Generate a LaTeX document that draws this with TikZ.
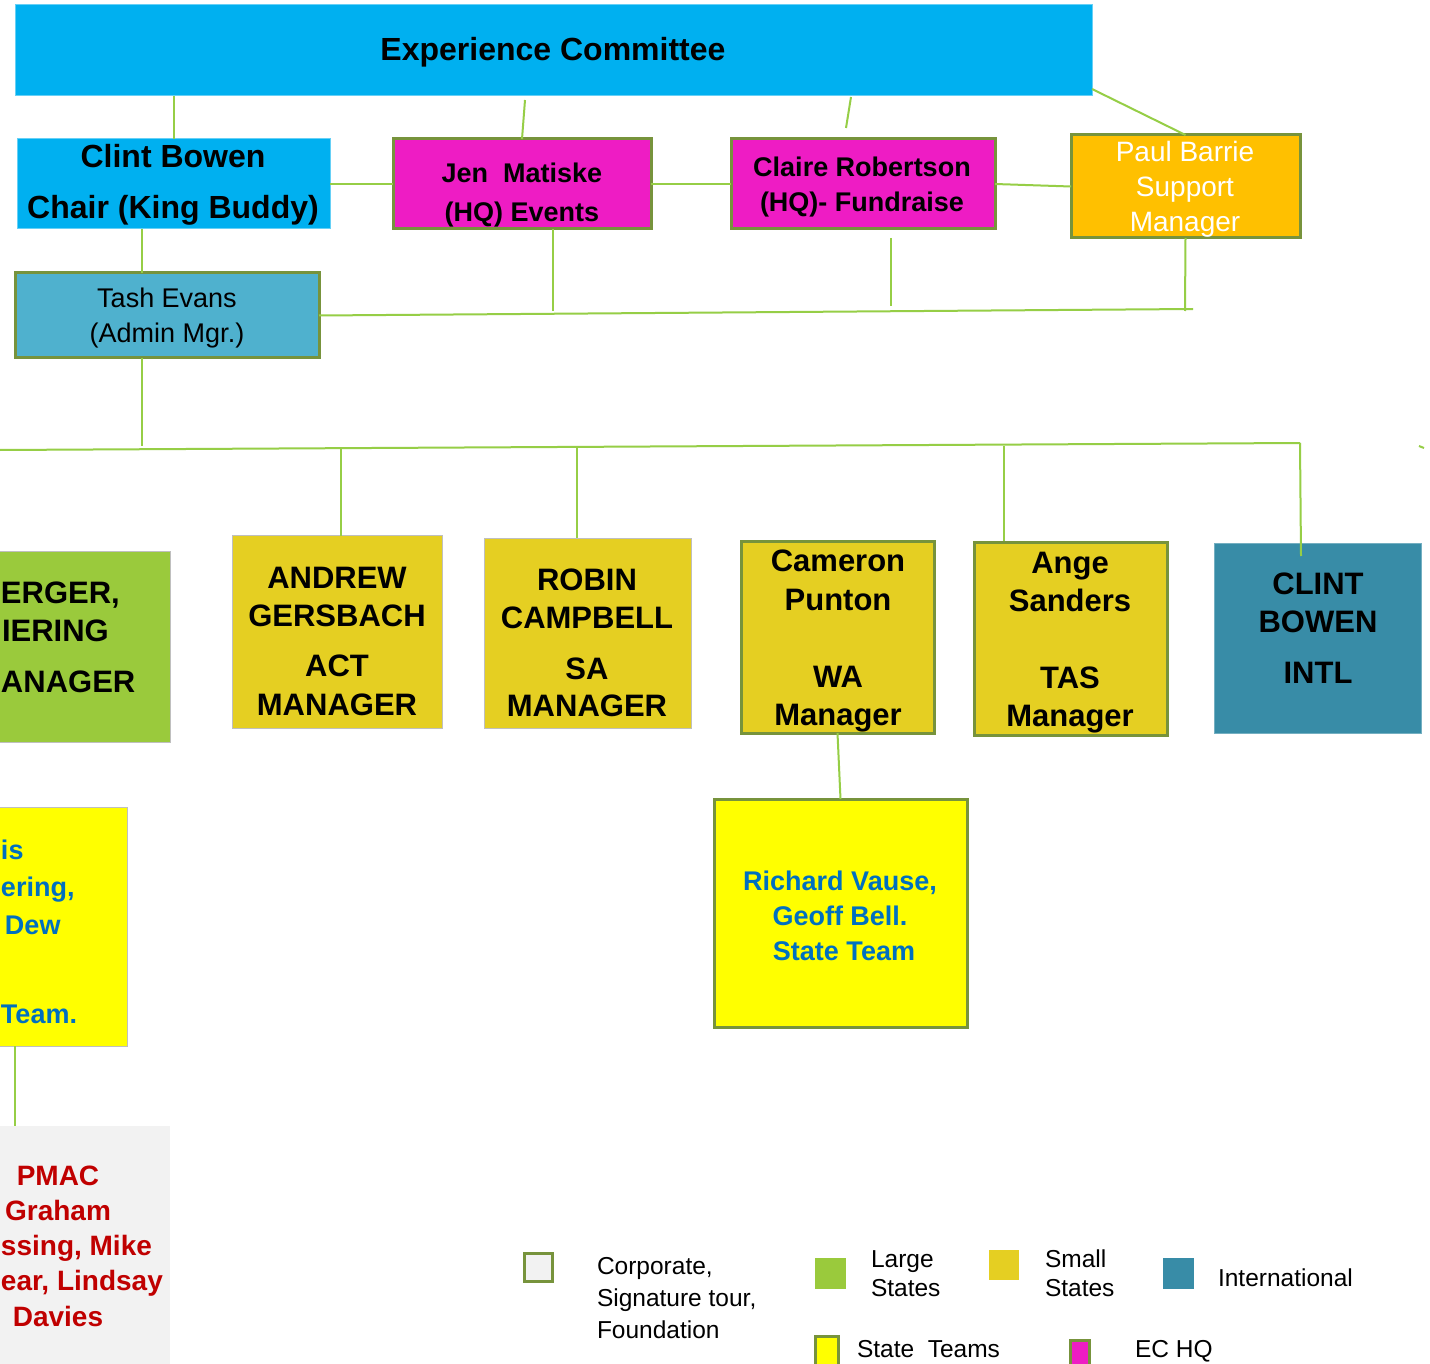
\documentclass[tikz,border=0pt]{standalone}
\usepackage{fontspec}
\setmainfont{Liberation Sans}
\definecolor{ecblue}{HTML}{00B0F0}
\definecolor{hqmag}{HTML}{EE1CC4}
\definecolor{orng}{HTML}{FFC000}
\definecolor{aqua}{HTML}{4FB1CE}
\definecolor{lgreen}{HTML}{9ACA3C}
\definecolor{mustard}{HTML}{E5CF22}
\definecolor{teal}{HTML}{388CA7}
\definecolor{yel}{HTML}{FFFF00}
\definecolor{lgrey}{HTML}{F2F2F2}
\definecolor{conngreen}{HTML}{96CE46}
\definecolor{bgreen}{HTML}{77933C}
\definecolor{bluetxt}{HTML}{0070C0}
\definecolor{redtxt}{HTML}{C00000}
\tikzset{
  conn/.style={draw=conngreen, line width=2pt},
  boxbase/.style={rectangle, inner sep=0pt, outer sep=0pt},
  gbox/.style={boxbase, draw=bgreen, line width=3pt},
  tbox/.style={boxbase, draw=black!25, line width=1pt},
  nbox/.style={boxbase},
  txt/.style={anchor=base, inner sep=0pt, outer sep=0pt},
  hdr/.style={txt, font=\bfseries\fontsize{32}{32}\selectfont},
  hq/.style={txt, font=\bfseries\fontsize{27}{27}\selectfont},
  rowtxt/.style={txt, font=\bfseries\fontsize{31}{31}\selectfont},
  lite/.style={txt, font=\fontsize{27}{27}\selectfont},
  bluet/.style={txt, text=bluetxt, font=\bfseries\fontsize{27}{27}\selectfont},
  redt/.style={txt, text=redtxt, font=\bfseries\fontsize{28}{28}\selectfont},
  legt/.style={txt, anchor=base west, font=\fontsize{24.5}{24.5}\selectfont},
}
\begin{document}
\begin{tikzpicture}[x=1pt,y=-1pt]
\useasboundingbox (0,0) rectangle (1430,1364);
\clip (0,0) rectangle (1430,1364);
\fill[white] (0,0) rectangle (1430,1364);

% ---- top level boxes
\node[nbox, fill=ecblue, draw=ecblue!60!white, line width=1pt, minimum width=1077, minimum height=91] (ec) at (553.5,50.5) {};
\node[nbox, fill=ecblue, draw=ecblue!60!white, line width=1pt, minimum width=313, minimum height=90] (clint) at (173.5,184) {};
\node[gbox, fill=hqmag, minimum width=258, minimum height=90] (jen) at (522,184) {};
\node[gbox, fill=hqmag, minimum width=264, minimum height=90] (claire) at (863,184) {};
\node[gbox, fill=orng, minimum width=229, minimum height=103] (paul) at (1185.5,186.5) {};
\node[gbox, fill=aqua, minimum width=304, minimum height=85] (tash) at (167,315.5) {};

% ---- second row
\node[tbox, fill=lgreen, minimum width=175, minimum height=191] (large) at (82.5,646.5) {};
\node[tbox, fill=mustard, minimum width=210, minimum height=193] (andrew) at (337,631.5) {};
\node[tbox, fill=mustard, minimum width=207, minimum height=190] (robin) at (587.5,633) {};
\node[gbox, fill=mustard, minimum width=193, minimum height=192] (cameron) at (837.5,637) {};
\node[gbox, fill=mustard, minimum width=193, minimum height=193] (ange) at (1070.5,638.5) {};
\node[nbox, fill=teal, draw=teal!70!white, line width=1pt, minimum width=207, minimum height=190] (intl) at (1317.5,638) {};

% ---- third row
\node[tbox, fill=yel, minimum width=132, minimum height=239] (yteam) at (61,926.5) {};
\node[gbox, fill=yel, minimum width=253, minimum height=228] (richard) at (840.5,913) {};
\node[nbox, fill=lgrey, minimum width=175, minimum height=244] (pmac) at (82.5,1248) {};

% ---- texts
\node[hdr] (t-ec) at (553,61) {Experience Committee};
\node[hdr] (t-cl1) at (173,168) {Clint Bowen};
\node[hdr] (t-cl2) at (173,219) {Chair (King Buddy)};
\node[hq] (t-jen1) at (522,183) {Jen~~Matiske};
\node[hq] (t-jen2) at (522,222) {(HQ) Events};
\node[hq] (t-cla1) at (862,177) {Claire Robertson};
\node[hq] (t-cla2) at (862,212) {(HQ)- Fundraise};
\node[lite, text=white, font=\fontsize{28}{28}\selectfont] (t-p1) at (1185,162) {Paul Barrie};
\node[lite, text=white, font=\fontsize{28}{28}\selectfont] (t-p2) at (1185,197) {Support};
\node[lite, text=white, font=\fontsize{28}{28}\selectfont] (t-p3) at (1185,232) {Manager};
\node[lite] (t-t1) at (167,308) {Tash Evans};
\node[lite] (t-t2) at (167,343) {(Admin Mgr.)};

\node[rowtxt, anchor=base west] (t-l1) at (1,603) {ERGER,};
\node[rowtxt, anchor=base west] (t-l2) at (2,641) {IERING};
\node[rowtxt, anchor=base west] (t-l3) at (1,692) {ANAGER};

\node[rowtxt] (t-a1) at (337,588) {ANDREW};
\node[rowtxt] (t-a2) at (337,626) {GERSBACH};
\node[rowtxt] (t-a3) at (337,676) {ACT};
\node[rowtxt] (t-a4) at (337,715) {MANAGER};

\node[rowtxt] (t-r1) at (587,590) {ROBIN};
\node[rowtxt] (t-r2) at (587,628) {CAMPBELL};
\node[rowtxt] (t-r3) at (587,679) {SA};
\node[rowtxt] (t-r4) at (587,716) {MANAGER};

\node[rowtxt] (t-c1) at (838,571) {Cameron};
\node[rowtxt] (t-c2) at (838,610) {Punton};
\node[rowtxt] (t-c3) at (838,687) {WA};
\node[rowtxt] (t-c4) at (838,725) {Manager};

\node[rowtxt] (t-g1) at (1070,573) {Ange};
\node[rowtxt] (t-g2) at (1070,611) {Sanders};
\node[rowtxt] (t-g3) at (1070,688) {TAS};
\node[rowtxt] (t-g4) at (1070,726) {Manager};

\node[rowtxt] (t-i1) at (1318,594) {CLINT};
\node[rowtxt] (t-i2) at (1318,632) {BOWEN};
\node[rowtxt] (t-i3) at (1318,683) {INTL};

\node[bluet, anchor=base west] (t-y1) at (1,859) {is};
\node[bluet, anchor=base west] (t-y2) at (1,896) {ering,};
\node[bluet, anchor=base west] (t-y3) at (5,934) {Dew};
\node[bluet, anchor=base west] (t-y4) at (1,1023) {Team.};

\node[bluet] (t-rv1) at (840,890) {Richard Vause,};
\node[bluet] (t-rv2) at (840,925) {Geoff Bell.};
\node[bluet] (t-rv3) at (844,960) {State Team};

\node[redt] (t-pm1) at (58,1185) {PMAC};
\node[redt] (t-pm2) at (58,1220) {Graham};
\node[redt, anchor=base west] (t-pm3) at (1,1255) {ssing, Mike};
\node[redt, anchor=base west] (t-pm4) at (1,1290) {ear, Lindsay};
\node[redt] (t-pm5) at (58,1326) {Davies};

% ---- coordinates for connector ends
\coordinate (ecA) at (525,100);
\coordinate (ecB) at (851,97);
\coordinate (clA) at (846,128);
\coordinate (ecC) at (1092,89);
\coordinate (clS) at (142,229);
\coordinate (taN) at (142,273);
\coordinate (jeS) at (553,229);
\coordinate (jeB) at (553,311);
\coordinate (crS) at (891,238);
\coordinate (crB) at (891,306);
\coordinate (paB) at (1185,311);
\coordinate (busE) at (1193,309);
\coordinate (taS) at (142,358);
\coordinate (taB) at (142,446);
\coordinate (busL) at (0,450);
\coordinate (busR) at (1300,443);
\coordinate (anB) at (341,448);
\coordinate (anN) at (341,536);
\coordinate (roB) at (577,447);
\coordinate (roN) at (577,538);
\coordinate (agB) at (1004,446);
\coordinate (agN) at (1004,541);
\coordinate (inN) at (1301,556);
\coordinate (ytS) at (15,1046);
\coordinate (pmN) at (15,1126);
\coordinate (tk1) at (1419,446);
\coordinate (tk2) at (1424,448);

% ---- connectors
\draw[conn] (clint.north |- ec.south) -- (clint.north);
\draw[conn] (ecA) -- (jen.north);
\draw[conn] (ecB) -- (clA);
\draw[conn] (ecC) -- (paul.north);
\draw[conn] (clint.east) -- (jen.west);
\draw[conn] (jen.east) -- (claire.west);
\draw[conn] (claire.east) -- (paul.west);
\draw[conn] (clS) -- (taN);
\draw[conn] (jeS) -- (jeB);
\draw[conn] (crS) -- (crB);
\draw[conn] (paul.south) -- (paB);
\draw[conn] (tash.east) -- (busE);
\draw[conn] (taS) -- (taB);
\draw[conn] (busL) -- (busR);
\draw[conn] (anB) -- (anN);
\draw[conn] (roB) -- (roN);
\draw[conn] (agB) -- (agN);
\draw[conn] (busR) -- (inN);
\draw[conn] (cameron.south) -- (richard.north);
\draw[conn] (ytS) -- (pmN);
\draw[conn] (tk1) -- (tk2);

% ---- legend
\node[gbox, fill=lgrey, minimum width=28, minimum height=28] (lg1) at (538,1267) {};
\node[nbox, fill=lgreen, minimum width=31, minimum height=31] (lg2) at (830.5,1273.5) {};
\node[nbox, fill=mustard, minimum width=30, minimum height=30] (lg3) at (1004,1265) {};
\node[nbox, fill=teal, minimum width=31, minimum height=31] (lg4) at (1178.5,1273.5) {};
\node[gbox, fill=yel, minimum width=23, minimum height=32] (lg5) at (826.5,1352) {};
\node[gbox, fill=hqmag, minimum width=19, minimum height=28] (lg6) at (1079.5,1354) {};

\node[legt] (l1a) at (597,1274) {Corporate,};
\node[legt] (l1b) at (597,1306) {Signature tour,};
\node[legt] (l1c) at (597,1338) {Foundation};
\node[legt] (l2a) at (871,1267) {Large};
\node[legt] (l2b) at (871,1296) {States};
\node[legt] (l3a) at (1045,1267) {Small};
\node[legt] (l3b) at (1045,1296) {States};
\node[legt] (l4) at (1218,1286) {International};
\node[legt] (l5) at (857,1357) {State~~Teams};
\node[legt] (l6) at (1135,1357) {EC HQ};
\end{tikzpicture}
\end{document}
